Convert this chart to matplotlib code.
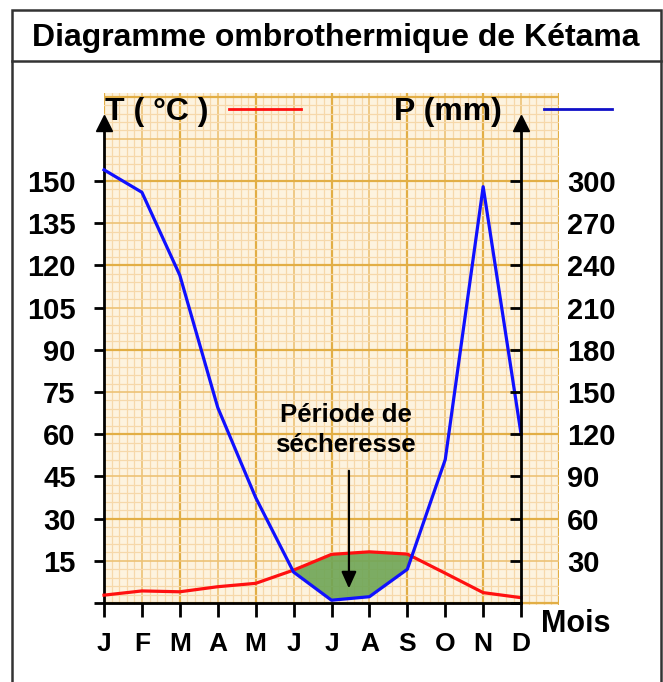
import numpy as np
import matplotlib
matplotlib.use("Agg")
import matplotlib.pyplot as plt
from matplotlib.patches import Rectangle
from matplotlib.lines import Line2D

plt.rcParams['font.family'] = ['Liberation Sans', 'DejaVu Sans']
plt.rcParams['font.weight'] = 'bold'

mois = ['J', 'F', 'M', 'A', 'M', 'J', 'J', 'A', 'S', 'O', 'N', 'D']
temp = [2.8, 4.3, 4.0, 5.8, 7.0, 11.7, 17.3, 18.2, 17.4, 10.6, 3.7, 1.9]   # T (°C)
prec = [308, 292, 233, 139, 75, 22, 2, 4.5, 24, 102, 296, 120]          # P (mm)
t_ticks = [0, 15, 30, 45, 60, 75, 90, 105, 120, 135, 150]
p_ticks = [0, 30, 60, 90, 120, 150, 180, 210, 240, 270, 300]

W, H = 663, 682
fig = plt.figure(figsize=(W / 100, H / 100), dpi=100)

# cadre + titre
fig.add_artist(Rectangle((12 / W, -0.01), (661 - 12) / W, (H - 10) / H + 0.01,
                         transform=fig.transFigure, fill=False, lw=1.8, ec='#333333'))
fig.add_artist(Line2D([12 / W, 661 / W], [1 - 61 / H, 1 - 61 / H],
                      transform=fig.transFigure, lw=1.8, color='#333333'))
fig.text(336 / W, 1 - 38 / H, 'Diagramme ombrothermique de Kétama',
         ha='center', va='center', fontsize=23, fontweight='bold')

ax = fig.add_axes([104 / W, (H - 605) / H, (559 - 104) / W, (605 - 93) / H])
ax.set_xlim(0, 12)
ax.set_ylim(-0.7, 181.3)
ax.set_facecolor('#fdf3df')

# papier millimetre
def style(k):
    if k % 10 == 0:
        return '#e2ae45', 1.6
    if k % 5 == 0:
        return '#edc276', 1.2
    return '#f6d8aa', 0.9

for xv in np.arange(0, 12.01, 0.2):
    c, lw = style(int(round(xv * 5)))
    ax.axvline(xv, color=c, lw=lw, zorder=0)
for yv in np.arange(0, 181.3, 3):
    c, lw = style(int(round(yv / 3)))
    ax.axhline(yv, color=c, lw=lw, zorder=0)

x = np.arange(len(mois))
t = np.array(temp)
p2 = np.array(prec) / 2.0
ax.fill_between(x, t, p2, where=p2 < t, interpolate=True,
                color='#6ea556', alpha=0.9, lw=0, zorder=2)
ax.plot(x, t, color='#ff1010', lw=2.3, zorder=3, clip_on=False)
ax.plot(x, p2, color='#1010ff', lw=2.3, zorder=3, clip_on=False)

# axes
ax.spines['top'].set_visible(False)
ax.spines['right'].set_visible(False)
ax.spines['bottom'].set_position(('data', 0))
ax.spines['bottom'].set_bounds(0, 11)
ax.spines['left'].set_bounds(0, 170)
for s in ['bottom', 'left']:
    ax.spines[s].set_linewidth(2)
ax.set_xticks(x)
ax.set_xticklabels(mois, fontsize=19, fontweight='bold')
ax.tick_params(axis='x', direction='out', length=10, width=2, pad=11)
ax.set_yticks(t_ticks)
ax.set_yticklabels([''] + [str(v) for v in t_ticks[1:]], fontsize=21, fontweight='bold')
ax.tick_params(axis='y', direction='out', length=7.5, width=2, pad=13)

ax2 = ax.twinx()
ax2.set_ylim(-1.4, 362.6)
for s in ['top', 'left', 'bottom']:
    ax2.spines[s].set_visible(False)
ax2.spines['right'].set_position(('data', 11))
ax2.spines['right'].set_bounds(0, 340)
ax2.spines['right'].set_linewidth(2)
ax2.set_yticks(p_ticks)
ax2.set_yticklabels([''] + [str(v) for v in p_ticks[1:]], fontsize=21, fontweight='bold')
ax2.tick_params(axis='y', direction='in', length=8, width=2, pad=33)

# fleches des axes
ax.plot([0], [170.5], marker='^', ms=11, color='black', clip_on=False, zorder=5)
ax.plot([11], [170.5], marker='^', ms=11, color='black', clip_on=False, zorder=5)

# legendes
ax.text(0.02, 174.6, 'T ( °C )', ha='left', va='center', fontsize=23, fontweight='bold')
ax.plot([3.3, 5.2], [175.5, 175.5], color='#ff1010', lw=2, clip_on=False)
ax.text(10.5, 174.6, 'P (mm)', ha='right', va='center', fontsize=23, fontweight='bold')
ax.plot([11.6, 13.4], [175.5, 175.5], color='#1010c8', lw=2, clip_on=False)
ax.text(12.45, -7.6, 'Mois', ha='center', va='center', fontsize=22, fontweight='bold')

# periode de secheresse
ax.text(6.37, 61.5, 'Période de\nsécheresse', ha='center', va='center',
        fontsize=18.5, fontweight='bold', linespacing=1.35, zorder=6)
ax.annotate('', xy=(6.46, 4.2), xytext=(6.46, 48),
            arrowprops=dict(arrowstyle='-|>,head_width=0.45,head_length=1.0',
                            color='black', lw=1.6), zorder=6)

fig.savefig('out.png', dpi=100)
